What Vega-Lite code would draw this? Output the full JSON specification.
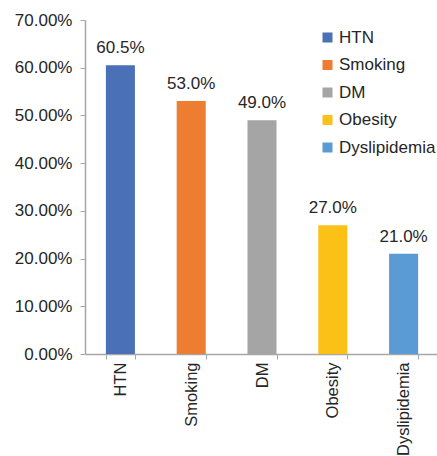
{
  "$schema": "https://vega.github.io/schema/vega-lite/v6.json",
  "autosize": "none",
  "width": 354,
  "height": 334,
  "padding": {"left": 85, "top": 20, "right": 0, "bottom": 102},
  "background": "white",
  "config": {
    "view": {"stroke": null},
    "font": "Liberation Sans",
    "text": {"font": "Liberation Sans"}
  },
  "data": {
    "values": [
      {"factor": "HTN", "share": 0.605},
      {"factor": "Smoking", "share": 0.53},
      {"factor": "DM", "share": 0.49},
      {"factor": "Obesity", "share": 0.27},
      {"factor": "Dyslipidemia", "share": 0.21}
    ]
  },
  "encoding": {
    "x": {
      "field": "factor",
      "type": "nominal",
      "sort": null,
      "scale": {"paddingInner": 0.59, "paddingOuter": 0.295},
      "axis": {
        "title": null,
        "labelAngle": -90,
        "labelFontSize": 16.5,
        "labelColor": "#262626",
        "labelPadding": 3,
        "tickBand": "extent",
        "tickSize": 5,
        "tickColor": "#a6a6a6",
        "domainColor": "#a6a6a6",
        "domainWidth": 1.5
      }
    },
    "y": {
      "field": "share",
      "type": "quantitative",
      "scale": {"domain": [0, 0.7]},
      "axis": {
        "title": null,
        "format": ".2%",
        "values": [0, 0.1, 0.2, 0.3, 0.4, 0.5, 0.6, 0.7],
        "grid": false,
        "labelFontSize": 17,
        "labelColor": "#262626",
        "labelPadding": 8,
        "tickSize": 5,
        "tickColor": "#a6a6a6",
        "domainColor": "#a6a6a6",
        "domainWidth": 1.5
      }
    }
  },
  "layer": [
    {
      "mark": {"type": "bar"},
      "encoding": {
        "color": {
          "field": "factor",
          "type": "nominal",
          "sort": null,
          "scale": {
            "domain": ["HTN", "Smoking", "DM", "Obesity", "Dyslipidemia"],
            "range": ["#4a70b8", "#ed7d31", "#a5a5a5", "#fbc117", "#5b9bd5"]
          },
          "legend": {
            "title": null,
            "orient": "none",
            "legendX": 234,
            "legendY": 9,
            "symbolType": "square",
            "symbolSize": 100,
            "symbolStrokeWidth": 0,
            "labelFontSize": 17,
            "labelColor": "#262626",
            "labelOffset": 3,
            "rowPadding": 9.5
          }
        }
      }
    },
    {
      "mark": {"type": "text", "baseline": "bottom", "dy": -8, "fontSize": 17, "color": "#262626"},
      "encoding": {
        "text": {"field": "share", "type": "quantitative", "format": ".1%"}
      }
    }
  ]
}
